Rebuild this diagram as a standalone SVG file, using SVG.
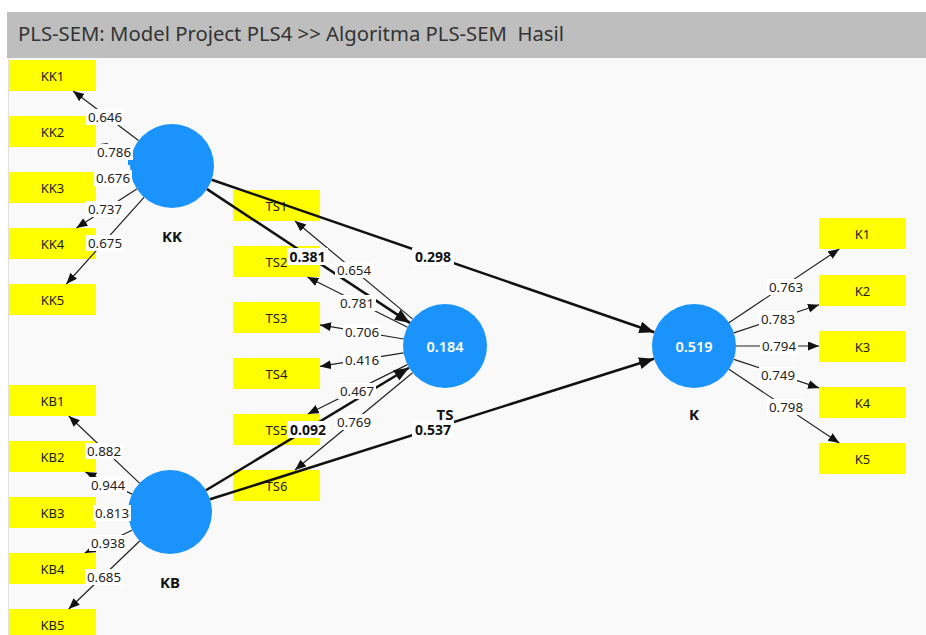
<svg xmlns="http://www.w3.org/2000/svg" width="926" height="635" viewBox="0 0 926 635">
<style>
.ind rect{fill:#ffff00}
.ind text{font-family:"Noto Sans","Open Sans",sans-serif;font-size:13px;fill:#222;text-anchor:middle;dominant-baseline:central}
.lv circle{fill:#1a94fc}
.lv .r2{font-family:"Noto Sans","Open Sans",sans-serif;font-size:14.5px;font-weight:600;fill:#fff;text-anchor:middle;dominant-baseline:central}
.lv .nm{font-family:"Noto Sans","Open Sans",sans-serif;font-size:15px;font-weight:bold;fill:#111;text-anchor:middle;dominant-baseline:central}
.out line{stroke:#222;stroke-width:1.2;marker-end:url(#ah)}
.str line{stroke:#111;stroke-width:2.5;marker-end:url(#ahb)}
.lab rect{fill:#fff}
.lab text{font-family:"Noto Sans","Open Sans",sans-serif;font-size:13.3px;fill:#222;text-anchor:middle;dominant-baseline:central}
.labb rect{fill:#fff}
.labb text{font-family:"Noto Sans","Open Sans",sans-serif;font-size:14px;font-weight:bold;fill:#111;text-anchor:middle;dominant-baseline:central}
</style>
<defs>
<marker id="ah" markerUnits="userSpaceOnUse" markerWidth="12" markerHeight="10" refX="11" refY="4.5" orient="auto"><path d="M0,0 L11,4.5 L0,9 z" fill="#111"/></marker>
<marker id="ahb" markerUnits="userSpaceOnUse" markerWidth="16" markerHeight="13" refX="15" refY="6" orient="auto"><path d="M0,0 L15,6 L0,12 z" fill="#111"/></marker>
</defs>
<rect x="0" y="0" width="926" height="635" fill="#fff"/>
<rect x="8" y="58" width="918" height="577" fill="#f9f9f9"/>
<line x1="8.5" y1="58" x2="8.5" y2="635" stroke="#e0e0e0"/>
<g id="header">
<rect x="7" y="12" width="919" height="46" fill="#bebebe"/>
<text x="18" y="41" font-family="Noto Sans, Open Sans, sans-serif" font-size="20.3" fill="#333" xml:space="preserve">PLS-SEM: Model Project PLS4 &gt;&gt; Algoritma PLS-SEM  Hasil</text>
</g>
<g id="KK1" class="ind"><rect x="9" y="60" width="87" height="31"/><text x="52.5" y="75.5">KK1</text></g>
<g id="KK2" class="ind"><rect x="9" y="116" width="87" height="31"/><text x="52.5" y="131.5">KK2</text></g>
<g id="KK3" class="ind"><rect x="9" y="172" width="87" height="31"/><text x="52.5" y="187.5">KK3</text></g>
<g id="KK4" class="ind"><rect x="9" y="228" width="87" height="31"/><text x="52.5" y="243.5">KK4</text></g>
<g id="KK5" class="ind"><rect x="9" y="284" width="87" height="31"/><text x="52.5" y="299.5">KK5</text></g>
<g id="KB1" class="ind"><rect x="9" y="385" width="87" height="31"/><text x="52.5" y="400.5">KB1</text></g>
<g id="KB2" class="ind"><rect x="9" y="441" width="87" height="31"/><text x="52.5" y="456.5">KB2</text></g>
<g id="KB3" class="ind"><rect x="9" y="497" width="87" height="31"/><text x="52.5" y="512.5">KB3</text></g>
<g id="KB4" class="ind"><rect x="9" y="553" width="87" height="31"/><text x="52.5" y="568.5">KB4</text></g>
<g id="KB5" class="ind"><rect x="9" y="609" width="87" height="31"/><text x="52.5" y="624.5">KB5</text></g>
<g id="TS1" class="ind"><rect x="233" y="190" width="87" height="31"/><text x="276.5" y="205.5">TS1</text></g>
<g id="TS2" class="ind"><rect x="233" y="246" width="87" height="31"/><text x="276.5" y="261.5">TS2</text></g>
<g id="TS3" class="ind"><rect x="233" y="302" width="87" height="31"/><text x="276.5" y="317.5">TS3</text></g>
<g id="TS4" class="ind"><rect x="233" y="358" width="87" height="31"/><text x="276.5" y="373.5">TS4</text></g>
<g id="TS5" class="ind"><rect x="233" y="414" width="87" height="31"/><text x="276.5" y="429.5">TS5</text></g>
<g id="TS6" class="ind"><rect x="233" y="470" width="87" height="31"/><text x="276.5" y="485.5">TS6</text></g>
<g id="K1" class="ind"><rect x="819" y="218" width="87" height="31"/><text x="862.5" y="233.5">K1</text></g>
<g id="K2" class="ind"><rect x="819" y="275" width="87" height="31"/><text x="862.5" y="290.5">K2</text></g>
<g id="K3" class="ind"><rect x="819" y="331" width="87" height="31"/><text x="862.5" y="346.5">K3</text></g>
<g id="K4" class="ind"><rect x="819" y="387" width="87" height="31"/><text x="862.5" y="402.5">K4</text></g>
<g id="K5" class="ind"><rect x="819" y="443" width="87" height="31"/><text x="862.5" y="458.5">K5</text></g>
<g id="KK" class="lv"><circle cx="172" cy="166" r="42"/><rect x="128" y="159" width="6" height="6" fill="#1a94fc"/><text class="nm" x="172" y="236">KK</text></g>
<g id="KB" class="lv"><circle cx="170" cy="512" r="42"/><text class="nm" x="170" y="582">KB</text></g>
<g id="TS" class="lv"><circle cx="445" cy="346" r="42"/><text class="r2" x="445" y="346">0.184</text><text class="nm" x="445" y="414">TS</text></g>
<g id="K" class="lv"><circle cx="694" cy="346" r="42"/><text class="r2" x="694" y="346">0.519</text><text class="nm" x="694" y="414">K</text></g>
<g id="connectors">
<g class="out">
<line x1="138.5" y1="140.6" x2="73.1" y2="91"/>
<line x1="131.6" y1="154.5" x2="96" y2="144.4"/>
<line x1="130.7" y1="173.4" x2="96" y2="179.7"/>
<line x1="136.8" y1="188.9" x2="76.4" y2="228"/>
<line x1="144" y1="197.3" x2="66.4" y2="284"/>
<line x1="139.5" y1="483.1" x2="68.8" y2="416"/>
<line x1="132" y1="494.1" x2="85.3" y2="472"/>
<line x1="128" y1="512" x2="96" y2="512"/>
<line x1="132" y1="530.3" x2="84.7" y2="553"/>
<line x1="139.7" y1="541" x2="68.7" y2="609"/>
<line x1="412.7" y1="319.1" x2="295" y2="221"/>
<line x1="407.5" y1="327.2" x2="307.4" y2="277"/>
<line x1="403.6" y1="339" x2="320" y2="324.9"/>
<line x1="403.6" y1="352.8" x2="320" y2="366.4"/>
<line x1="407.4" y1="364.6" x2="307.8" y2="414"/>
<line x1="412.6" y1="372.8" x2="295" y2="470"/>
<line x1="728.9" y1="322.7" x2="839.3" y2="249"/>
<line x1="733.9" y1="332.9" x2="819" y2="304.8"/>
<line x1="736" y1="346" x2="819" y2="346"/>
<line x1="733.9" y1="359.4" x2="819" y2="387.9"/>
<line x1="728.9" y1="369.3" x2="839.3" y2="443"/>
</g>
<g class="str">
<line x1="207" y1="189.1" x2="409.9" y2="322.9"/>
<line x1="211.7" y1="179.7" x2="654.3" y2="332.3"/>
<line x1="206" y1="490.3" x2="409" y2="367.7"/>
<line x1="210" y1="499.3" x2="654" y2="358.7"/>
</g>
<g class="lab">
<rect x="86" y="109" width="38" height="16"/><text x="105" y="117">0.646</text>
<rect x="95" y="144" width="38" height="16"/><text x="114" y="152">0.786</text>
<rect x="94" y="170" width="38" height="16"/><text x="113" y="178">0.676</text>
<rect x="86" y="201" width="38" height="16"/><text x="105" y="209">0.737</text>
<rect x="86" y="235" width="38" height="16"/><text x="105" y="243">0.675</text>
<rect x="85" y="443" width="38" height="16"/><text x="104" y="451">0.882</text>
<rect x="89" y="477" width="38" height="16"/><text x="108" y="485">0.944</text>
<rect x="93" y="505" width="38" height="16"/><text x="112" y="513">0.813</text>
<rect x="89" y="535" width="38" height="16"/><text x="108" y="543">0.938</text>
<rect x="85" y="569" width="38" height="16"/><text x="104" y="577">0.685</text>
<rect x="335" y="262" width="38" height="16"/><text x="354" y="270">0.654</text>
<rect x="338" y="295" width="38" height="16"/><text x="357" y="303">0.781</text>
<rect x="343" y="324" width="38" height="16"/><text x="362" y="332">0.706</text>
<rect x="343" y="352" width="38" height="16"/><text x="362" y="360">0.416</text>
<rect x="338" y="383" width="38" height="16"/><text x="357" y="391">0.467</text>
<rect x="335" y="414" width="38" height="16"/><text x="354" y="422">0.769</text>
<rect x="767" y="279" width="38" height="16"/><text x="786" y="287">0.763</text>
<rect x="759" y="311" width="38" height="16"/><text x="778" y="319">0.783</text>
<rect x="760" y="338" width="38" height="16"/><text x="779" y="346">0.794</text>
<rect x="759" y="367" width="38" height="16"/><text x="778" y="375">0.749</text>
<rect x="767" y="399" width="38" height="16"/><text x="786" y="407">0.798</text>
</g>
<g class="labb">
<rect x="287" y="248" width="41" height="17"/><text x="307.5" y="256.5">0.381</text>
<rect x="412" y="248" width="42" height="17"/><text x="433" y="256.5">0.298</text>
<rect x="287" y="421" width="42" height="17"/><text x="308" y="429.5">0.092</text>
<rect x="412" y="421" width="42" height="17"/><text x="433" y="429.5">0.537</text>
</g>
</g>
</svg>
